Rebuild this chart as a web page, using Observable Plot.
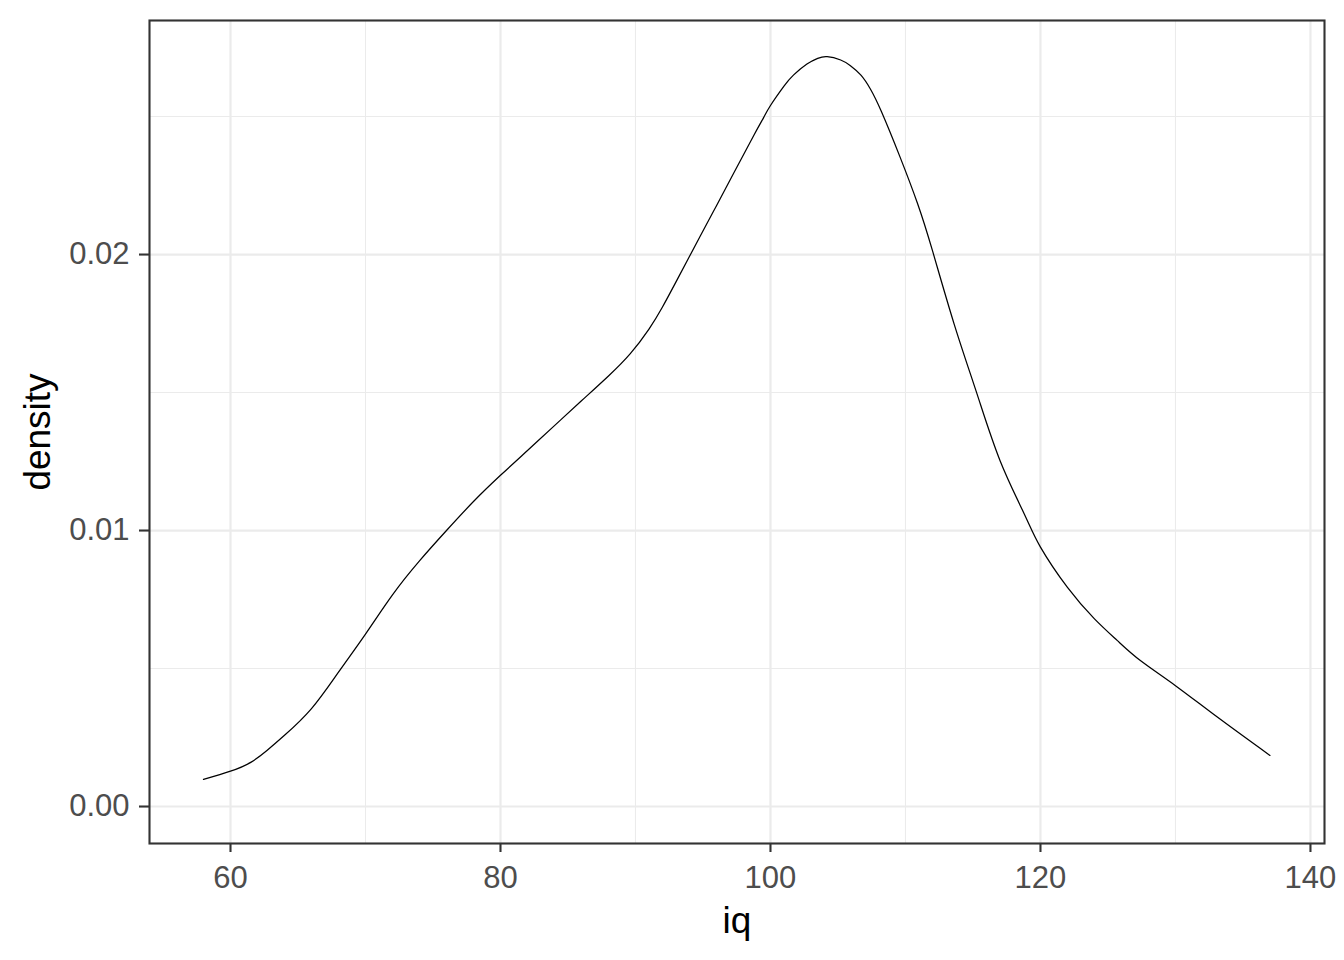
<!DOCTYPE html>
<html>
<head>
<meta charset="utf-8">
<script src="https://cdn.jsdelivr.net/npm/d3@7"></script>
<script src="https://cdn.jsdelivr.net/npm/@observablehq/plot@0.6"></script>
<style>
  html, body { margin: 0; padding: 0; background: #fff; }
  #chart svg { display: block; font-family: "Liberation Sans", Arial, sans-serif; }
</style>
</head>
<body>
<div id="chart"></div>
<script>
// Density curve of iq
const iq = [58, 60, 61.5, 62.7, 64, 66, 68, 70, 72, 74, 76, 78, 80, 82, 84, 86, 88, 89.6, 91, 92, 93.1, 94.8, 96, 97.3, 98.8, 99.5, 100, 101, 101.7, 102.7, 103.5, 104.2, 105.2, 105.9, 106.7, 107.4, 108.2, 109.6, 110.9, 112, 113.6, 115.3, 117, 118.8, 120, 122, 124, 125.7, 127.4, 130, 133.1, 137];
const density = [0.00098, 0.00128, 0.0016, 0.00203, 0.00258, 0.00355, 0.00487, 0.00625, 0.00767, 0.0089, 0.0100, 0.01105, 0.0120, 0.0129, 0.0138, 0.0147, 0.0156, 0.0164, 0.0173, 0.0181, 0.0191, 0.02067, 0.02177, 0.02297, 0.02435, 0.02497, 0.0254, 0.0261, 0.0265, 0.0269, 0.02711, 0.02717, 0.02705, 0.02685, 0.0265, 0.026, 0.0252, 0.02353, 0.02184, 0.02014, 0.01749, 0.01495, 0.01254, 0.0106, 0.0094, 0.00794, 0.0068, 0.00601, 0.00529, 0.00438, 0.00324, 0.00185];

const xMajor = [60, 80, 100, 120, 140];
const xMinor = [70, 90, 110, 130];
const yMajor = [0, 0.01, 0.02];
const yMinor = [0.005, 0.015, 0.025];
const xLabel = "iq";
const yLabel = "density";

const data = iq.map((x, i) => ({x, y: density[i]}));
const font = "Liberation Sans, Arial, sans-serif";

const chart = Plot.plot({
  width: 1344,
  height: 960,
  marginLeft: 149,
  marginRight: 20,
  marginTop: 20,
  marginBottom: 117,
  style: {fontFamily: font, background: "#fff"},
  x: {domain: [54.0, 141.04]},
  y: {domain: [-0.00134, 0.02848]},
  marks: [
    Plot.gridX(xMinor, {stroke: "#EBEBEB", strokeOpacity: 1, strokeWidth: 1.07}),
    Plot.gridY(yMinor, {stroke: "#EBEBEB", strokeOpacity: 1, strokeWidth: 1.07}),
    Plot.gridX(xMajor, {stroke: "#EBEBEB", strokeOpacity: 1, strokeWidth: 2.2}),
    Plot.gridY(yMajor, {stroke: "#EBEBEB", strokeOpacity: 1, strokeWidth: 2.2}),
    Plot.line(data, {x: "x", y: "y", stroke: "black", strokeWidth: 1.25, curve: "natural"}),
    Plot.frame({stroke: "#333333", strokeWidth: 2.1}),
    Plot.axisX(xMajor, {
      anchor: "bottom", label: null, tickSize: 9, tickPadding: 13,
      stroke: "#333333", strokeWidth: 2.1, fill: "#4D4D4D", fontSize: 31,
      tickFormat: d3.format("d")
    }),
    Plot.axisY(yMajor, {
      anchor: "left", label: null, tickSize: 10, tickPadding: 10,
      stroke: "#333333", strokeWidth: 2.1, fill: "#4D4D4D", fontSize: 31,
      tickFormat: d3.format(".2f")
    }),
    Plot.text([xLabel], {frameAnchor: "bottom", dy: 89, lineAnchor: "bottom", textAnchor: "middle", fontSize: 37, fill: "black", text: d => d}),
    Plot.text([yLabel], {frameAnchor: "left", dx: -100, rotate: -90, lineAnchor: "bottom", textAnchor: "middle", fontSize: 37, fill: "black", text: d => d})
  ]
});
document.getElementById("chart").appendChild(chart);
</script>
</body>
</html>
